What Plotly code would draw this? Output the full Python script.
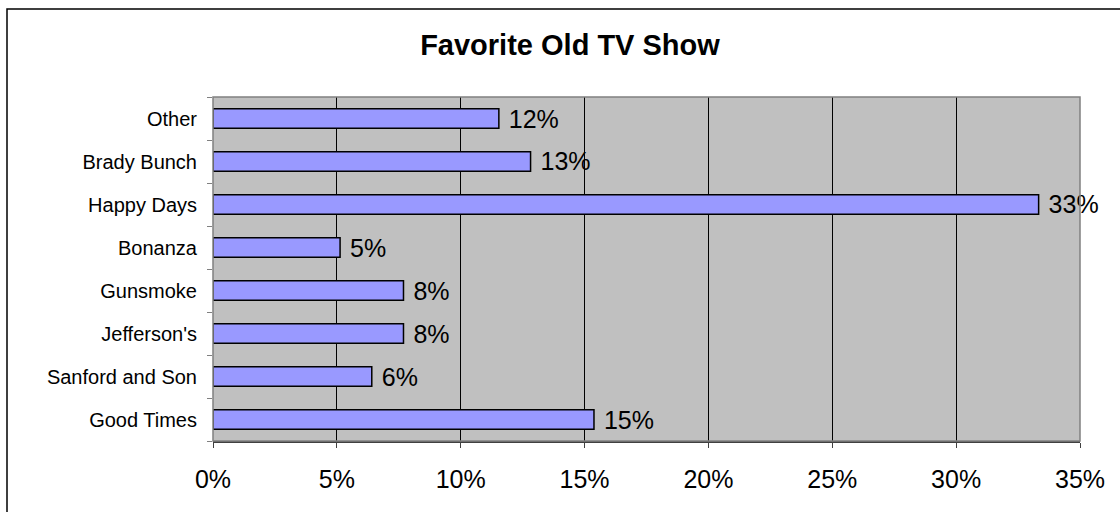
"""Favorite Old TV Show - horizontal bar chart."""

import plotly.graph_objects as go

shows = [
    "Good Times",
    "Sanford and Son",
    "Jefferson's",
    "Gunsmoke",
    "Bonanza",
    "Happy Days",
    "Brady Bunch",
    "Other",
]
# share of votes (fractions)
share = [0.1538, 0.0641, 0.0769, 0.0769, 0.0513, 0.3333, 0.1282, 0.1154]
x_ticks = [0, 0.05, 0.10, 0.15, 0.20, 0.25, 0.30, 0.35]
x_tick_text = ["0%", "5%", "10%", "15%", "20%", "25%", "30%", "35%"]

FONT = "Arial, Liberation Sans, sans-serif"

fig = go.Figure()
fig.add_trace(
    go.Bar(
        x=share,
        y=shows,
        orientation="h",
        width=0.45,
        marker=dict(color="#9999FF", line=dict(color="#000000", width=1.5)),
        texttemplate="\u00a0%{x:.0%}",
        textposition="outside",
        constraintext="none",
        cliponaxis=False,
        textfont=dict(family=FONT, size=25, color="#000000"),
        hoverinfo="x+y",
    )
)

fig.update_layout(
    width=1120,
    height=512,
    margin=dict(l=213, r=40, t=97, b=71),
    paper_bgcolor="#FFFFFF",
    plot_bgcolor="#C0C0C0",
    showlegend=False,
    title=dict(
        text="<b>Favorite Old TV Show</b>",
        x=570 / 1120,
        xanchor="center",
        y=1 - 45 / 512,
        yanchor="middle",
        font=dict(family=FONT, size=29, color="#000000"),
    ),
    xaxis=dict(
        range=[0, 0.35],
        tickvals=x_ticks,
        ticktext=x_tick_text,
        showgrid=True,
        gridcolor="#000000",
        gridwidth=1,
        zeroline=False,
        showline=True,
        linecolor="#404040",
        linewidth=2,
        ticks="outside",
        ticklen=5,
        tickcolor="#404040",
        ticklabelstandoff=10,
        tickfont=dict(family=FONT, size=25, color="#000000"),
    ),
    yaxis=dict(
        showgrid=False,
        zeroline=False,
        ticks="outside",
        tickson="boundaries",
        ticklen=5,
        tickcolor="#808080",
        ticklabelstandoff=15,
        tickfont=dict(family=FONT, size=20, color="#000000"),
    ),
    shapes=[
        # plot area border
        dict(
            type="rect", xref="paper", yref="paper",
            x0=0, x1=1, y0=0, y1=1,
            line=dict(color="#808080", width=1.5),
            layer="above",
        ),
        # chart area border (runs off the right and bottom of the picture)
        dict(
            type="rect", xref="paper", yref="paper",
            x0=(7 - 213) / 867, x1=(1130 - 213) / 867,
            y0=(441 - 520) / 344, y1=(441 - 9) / 344,
            line=dict(color="#000000", width=1.5),
        ),
    ],
)

fig.write_html(
    "out.html",
    config={"displayModeBar": False},
    post_script="document.body.style.margin = '0';",
)
